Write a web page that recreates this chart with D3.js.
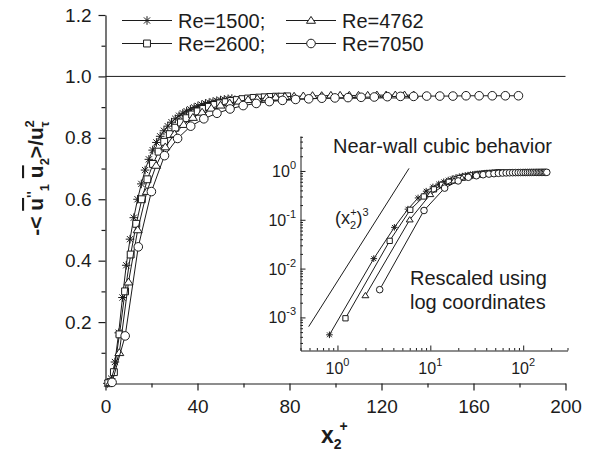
<!DOCTYPE html>
<html><head><meta charset="utf-8">
<script src="https://cdn.jsdelivr.net/npm/d3@7/dist/d3.min.js"></script>
<style>
html,body{margin:0;padding:0;background:#fff;}
svg{display:block;font-family:"Liberation Sans",Arial,Helvetica,sans-serif;}
</style></head><body>
<svg id="chart" width="599" height="455"></svg>
<script>
// Wall-normal positions x2+ for each Reynolds number
const xRe1500 = [0.82, 2.46, 4.10, 5.74, 7.38, 9.02, 10.66, 12.30, 13.94, 15.58, 17.22, 18.86, 20.50, 22.14, 23.78, 25.42, 27.06, 28.70, 30.34, 31.98, 33.62, 35.26, 36.90, 38.54, 40.18, 41.82, 43.46, 45.10, 46.74, 48.38, 50.02, 51.66, 53.30, 54.94];
const yRe1500 = [0.00044, 0.016, 0.070, 0.165, 0.280, 0.385, 0.470, 0.540, 0.600, 0.650, 0.695, 0.730, 0.760, 0.785, 0.805, 0.823, 0.838, 0.851, 0.862, 0.872, 0.880, 0.887, 0.893, 0.899, 0.904, 0.908, 0.912, 0.915, 0.918, 0.921, 0.923, 0.925, 0.927, 0.928];

const xRe2600 = [1.22, 3.65, 6.08, 8.51, 10.94, 13.37, 15.80, 18.23, 20.66, 23.09, 25.52, 27.95, 30.38, 32.81, 35.24, 37.67, 40.10, 42.53, 44.96, 47.39, 49.82, 52.25, 54.68, 57.11, 59.54, 61.97, 64.40, 66.83, 69.26, 71.69, 74.12, 76.55, 78.98];
const yRe2600 = [0.00096, 0.037, 0.160, 0.300, 0.420, 0.520, 0.600, 0.665, 0.715, 0.755, 0.787, 0.812, 0.833, 0.850, 0.864, 0.876, 0.886, 0.894, 0.901, 0.907, 0.912, 0.916, 0.920, 0.923, 0.926, 0.928, 0.930, 0.931, 0.932, 0.933, 0.934, 0.934, 0.935];

const xRe4762 = [2, 6, 10, 14, 18, 22, 26, 30, 34, 38, 42, 46, 50, 54, 58, 62, 66, 70, 74, 78, 82, 86, 90, 94, 98, 102, 106, 110, 114, 118, 122, 126, 130, 134];
const yRe4762 = [0.0028, 0.100, 0.330, 0.500, 0.625, 0.710, 0.770, 0.812, 0.843, 0.866, 0.883, 0.896, 0.906, 0.913, 0.919, 0.924, 0.927, 0.930, 0.932, 0.934, 0.935, 0.936, 0.937, 0.937, 0.938, 0.938, 0.938, 0.938, 0.938, 0.939, 0.939, 0.939, 0.939, 0.939];

const xRe7050 = [2.85, 8.55, 14.25, 19.95, 25.65, 31.35, 37.05, 42.75, 48.45, 54.15, 59.85, 65.55, 71.25, 76.95, 82.65, 88.35, 94.05, 99.75, 105.45, 111.15, 116.85, 122.55, 128.25, 133.95, 139.65, 145.35, 151.05, 156.75, 162.45, 168.15, 173.85, 179.55];
const yRe7050 = [0.0037, 0.155, 0.445, 0.625, 0.742, 0.798, 0.838, 0.862, 0.880, 0.894, 0.905, 0.912, 0.918, 0.922, 0.925, 0.927, 0.929, 0.930, 0.931, 0.932, 0.933, 0.934, 0.935, 0.935, 0.936, 0.936, 0.936, 0.937, 0.937, 0.937, 0.937, 0.937];

const seriesNames = ["Re=1500;", "Re=2600;", "Re=4762", "Re=7050"];
const seriesSymbols = ["star", "square", "triangle", "circle"];

const xTicks = [0, 40, 80, 120, 160, 200];
const xMinorTicks = [20, 60, 100, 140, 180];
const yTicks = [0.2, 0.4, 0.6, 0.8, 1.0, 1.2];
const yMinorTicks = [0.1, 0.3, 0.5, 0.7, 0.9, 1.1];
const referenceLevel = 1.0;

const insetXTicks = [1, 10, 100];
const insetYTicks = [1e-3, 1e-2, 1e-1, 1];
const cubicX = [0.49, 5.9];     // extent of the (x2+)^3 guide line
const cubicCoef = 0.0055;

const series = [
  {name: seriesNames[0], sym: seriesSymbols[0], xs: xRe1500, ys: yRe1500},
  {name: seriesNames[1], sym: seriesSymbols[1], xs: xRe2600, ys: yRe2600},
  {name: seriesNames[2], sym: seriesSymbols[2], xs: xRe4762, ys: yRe4762},
  {name: seriesNames[3], sym: seriesSymbols[3], xs: xRe7050, ys: yRe7050}
];

const INK = "#1c1c1c";
const svg = d3.select("#chart");

// marker outlines, centred on the origin
function symbolPath(sym, s) {
  if (sym === "star") {
    const a = s * 0.72;
    return `M0,${-s}V${s}M${-s},0H${s}M${-a},${-a}L${a},${a}M${-a},${a}L${a},${-a}`;
  }
  if (sym === "square") {
    const h = s * 0.8;
    return `M${-h},${-h}H${h}V${h}H${-h}Z`;
  }
  if (sym === "triangle") {
    const w = s * 1.05, top = -s * 0.95, bot = s * 0.65;
    return `M0,${top}L${w},${bot}L${-w},${bot}Z`;
  }
  return `M${s},0A${s},${s} 0 1,1 ${-s},0A${s},${s} 0 1,1 ${s},0Z`;
}

function drawSeries(g, sx, sy, s, size) {
  const pts = s.xs.map((v, i) => [v, s.ys[i]]);
  g.append("path")
    .attr("d", d3.line().x(d => sx(d[0])).y(d => sy(d[1]))(pts))
    .attr("fill", "none").attr("stroke", INK).attr("stroke-width", 1);
  g.selectAll(null).data(pts).enter().append("path")
    .attr("transform", d => `translate(${sx(d[0])},${sy(d[1])})`)
    .attr("d", symbolPath(s.sym, size))
    .attr("fill", s.sym === "star" ? "none" : "#fff")
    .attr("stroke", INK).attr("stroke-width", 1);
}

// ---------- main panel ----------
const x = d3.scaleLinear().domain([0, 200]).range([105.5, 565.5]);
const y = d3.scaleLinear().domain([0, 1.2]).range([383.5, 15]);

const main = svg.append("g");

main.append("line")
  .attr("x1", x(0)).attr("x2", x(200))
  .attr("y1", y(referenceLevel)).attr("y2", y(referenceLevel))
  .attr("stroke", INK).attr("stroke-width", 1);

const xAxis = main.append("g").attr("transform", `translate(0,${y(0)})`)
  .call(d3.axisBottom(x).tickValues(xTicks).tickSize(7).tickPadding(9).tickSizeOuter(0).tickFormat(d3.format("d")));
main.append("g").attr("transform", `translate(0,${y(0)})`)
  .call(d3.axisBottom(x).tickValues(xMinorTicks).tickSize(4).tickSizeOuter(0).tickFormat(""))
  .select(".domain").remove();

const yAxis = main.append("g").attr("transform", `translate(${x(0)},0)`)
  .call(d3.axisLeft(y).tickValues(yTicks).tickSize(7).tickPadding(7).tickSizeOuter(0).tickFormat(d3.format(".1f")));
main.append("g").attr("transform", `translate(${x(0)},0)`)
  .call(d3.axisLeft(y).tickValues(yMinorTicks).tickSize(4).tickSizeOuter(0).tickFormat(""))
  .select(".domain").remove();

main.selectAll(".domain, .tick line").attr("stroke", INK).attr("stroke-width", 1.2);
main.selectAll(".tick text").attr("fill", INK).attr("font-size", 19)
  .attr("font-family", '"Liberation Sans",Arial,sans-serif');

const mainSeries = main.append("g");
series.forEach(s => drawSeries(mainSeries, x, y, s, 4.3));

// legend
const legendPos = [[122, 20.5], [122, 43.5], [286, 20.5], [286, 43.5]];
series.forEach((s, i) => {
  const [lx0, ly0] = legendPos[i];
  const g = svg.append("g").attr("transform", `translate(${lx0},${ly0})`);
  g.append("line").attr("x1", 0).attr("x2", 50).attr("stroke", INK).attr("stroke-width", 1);
  g.append("path").attr("transform", "translate(25,0)").attr("d", symbolPath(s.sym, 4.3))
    .attr("fill", s.sym === "star" ? "none" : "#fff").attr("stroke", INK).attr("stroke-width", 1);
  g.append("text").attr("x", 56).attr("y", 7).attr("font-size", 20).attr("fill", INK).text(s.name);
});

// axis titles
const xt = svg.append("text").attr("x", 321).attr("y", 443)
  .attr("font-weight", "bold").attr("font-size", 23).attr("fill", INK);
xt.append("tspan").text("x");
xt.append("tspan").attr("font-size", 14).attr("dy", 6).text("2");
xt.append("tspan").attr("font-size", 14).attr("dx", -2).attr("dy", -18).text("+");

const yt = svg.append("text").attr("transform", "translate(43,178) rotate(-90)")
  .attr("text-anchor", "middle").attr("font-weight", "bold").attr("font-size", 21).attr("fill", INK);
yt.append("tspan").text("-< ");
yt.append("tspan").attr("text-decoration", "overline").text("u");
yt.append("tspan").attr("font-size", 14).attr("dy", -6).text("''");
yt.append("tspan").attr("font-size", 13).attr("dy", 12).text("1");
yt.append("tspan").attr("dy", -6).text(" ");
yt.append("tspan").attr("text-decoration", "overline").text("u");
yt.append("tspan").attr("font-size", 13).attr("dy", 6).text("2");
yt.append("tspan").attr("dy", -6).text(">/u");
yt.append("tspan").attr("font-size", 13).attr("dy", 6).text("τ");
yt.append("tspan").attr("font-size", 13).attr("dx", -6).attr("dy", -15).text("2");

// ---------- inset: log-log view ----------
const lx = d3.scaleLog().domain([0.4, 300]).range([300.5, 567.5]);
const ly = d3.scaleLog().domain([2.1e-4, 5.2]).range([350.5, 136]);
const inset = svg.append("g");

const minorLogX = [];
[0.1, 1, 10, 100].forEach(d => { for (let k = 2; k <= 9; k++) { const v = d * k; if (v >= 0.4 && v <= 300) minorLogX.push(v); } });
const minorLogY = [];
[1e-4, 1e-3, 1e-2, 1e-1, 1].forEach(d => { for (let k = 2; k <= 9; k++) { const v = d * k; if (v >= 2.1e-4 && v <= 5.2) minorLogY.push(v); } });

inset.append("g").attr("transform", `translate(0,${ly.range()[0]})`)
  .call(d3.axisBottom(lx).tickValues(insetXTicks).tickSize(-5).tickSizeOuter(0).tickFormat(""));
inset.append("g").attr("transform", `translate(0,${ly.range()[0]})`)
  .call(d3.axisBottom(lx).tickValues(minorLogX).tickSize(-2.5).tickSizeOuter(0).tickFormat(""))
  .select(".domain").remove();
inset.append("g").attr("transform", `translate(${lx.range()[0]},0)`)
  .call(d3.axisLeft(ly).tickValues(insetYTicks).tickSize(-5).tickSizeOuter(0).tickFormat(""));
inset.append("g").attr("transform", `translate(${lx.range()[0]},0)`)
  .call(d3.axisLeft(ly).tickValues(minorLogY).tickSize(-2.5).tickSizeOuter(0).tickFormat(""))
  .select(".domain").remove();
inset.selectAll(".domain, .tick line").attr("stroke", INK).attr("stroke-width", 1);

// decade labels 10^n
insetXTicks.forEach(v => {
  const t = inset.append("text").attr("x", lx(v)).attr("y", 374).attr("text-anchor", "middle")
    .attr("font-size", 16).attr("fill", INK);
  t.append("tspan").text("10");
  t.append("tspan").attr("font-size", 11).attr("dy", -8).text(String(Math.round(Math.log10(v))));
});
insetYTicks.forEach(v => {
  const t = inset.append("text").attr("x", 296).attr("y", ly(v) + 6).attr("text-anchor", "end")
    .attr("font-size", 16).attr("fill", INK);
  t.append("tspan").text("10");
  t.append("tspan").attr("font-size", 11).attr("dy", -8).text(String(Math.round(Math.log10(v))));
});

// cubic guide line
inset.append("line")
  .attr("x1", lx(cubicX[0])).attr("y1", ly(cubicCoef * Math.pow(cubicX[0], 3)))
  .attr("x2", lx(cubicX[1])).attr("y2", ly(cubicCoef * Math.pow(cubicX[1], 3)))
  .attr("stroke", INK).attr("stroke-width", 1);

const insetSeries = inset.append("g");
series.forEach(s => drawSeries(insetSeries, lx, ly, s, 3.3));

// inset annotations
inset.append("text").attr("x", 333).attr("y", 153).attr("font-size", 20).attr("fill", INK)
  .text("Near-wall cubic behavior");
inset.append("text").attr("x", 410).attr("y", 285).attr("font-size", 20).attr("fill", INK)
  .text("Rescaled using");
inset.append("text").attr("x", 410).attr("y", 309).attr("font-size", 20).attr("fill", INK)
  .text("log coordinates");
const cl = inset.append("text").attr("x", 335).attr("y", 224).attr("font-size", 18).attr("fill", INK);
cl.append("tspan").text("(x");
cl.append("tspan").attr("font-size", 11).attr("dy", 5).text("2");
cl.append("tspan").attr("font-size", 11).attr("dx", -6).attr("dy", -13).text("+");
cl.append("tspan").attr("dy", 8).text(")");
cl.append("tspan").attr("font-size", 11).attr("dy", -8).text("3");
</script>
</body></html>
